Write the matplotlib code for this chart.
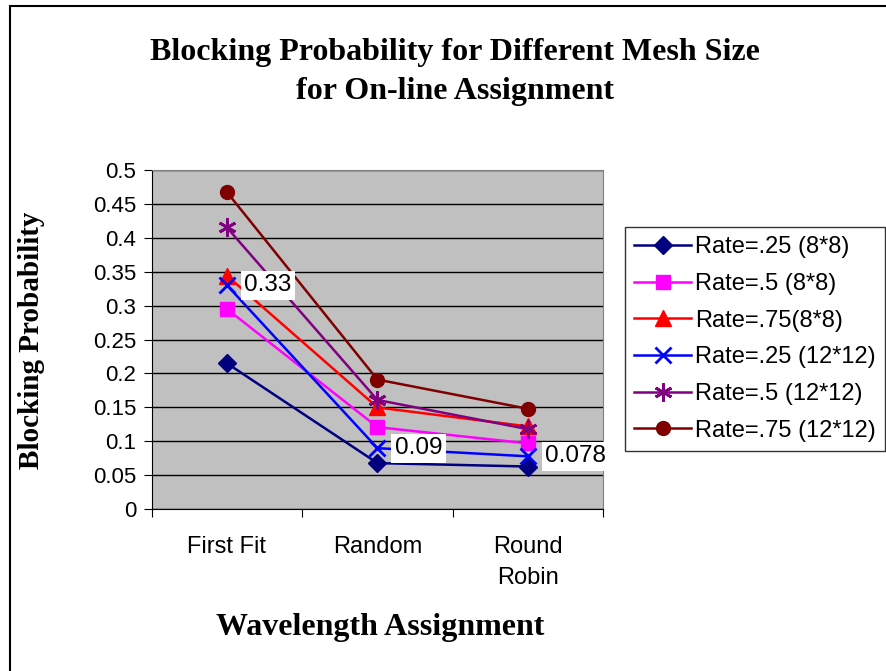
import numpy as np
import matplotlib.pyplot as plt
from matplotlib.patches import Rectangle

categories = ['First Fit', 'Random', 'Round\nRobin']

rate25_8 = [0.215, 0.068, 0.063]
rate5_8 = [0.295, 0.121, 0.097]
rate75_8 = [0.344, 0.150, 0.122]
rate25_12 = [0.33, 0.09, 0.078]
rate5_12 = [0.415, 0.161, 0.118]
rate75_12 = [0.467, 0.191, 0.148]

series = [
    ('Rate=.25 (8*8)', rate25_8, '#000080', 'D', 9),
    ('Rate=.5 (8*8)', rate5_8, '#FF00FF', 's', 10),
    ('Rate=.75(8*8)', rate75_8, '#FF0000', '^', 11),
    ('Rate=.25 (12*12)', rate25_12, '#0000FF', 'x', 11),
    ('Rate=.5 (12*12)', rate5_12, '#800080', (6, 2, 0), 13),
    ('Rate=.75 (12*12)', rate75_12, '#800000', 'o', 10),
]

sans = 'Liberation Sans'
serif = 'Liberation Serif'

fig = plt.figure(figsize=(8.87, 6.71), dpi=100)
ax = fig.add_axes([0.171, 0.241, 0.509, 0.506])
ax.set_facecolor('#C0C0C0')

x = np.arange(len(categories))
for name, vals, col, mk, ms in series:
    ax.plot(x, vals, color=col, marker=mk, markersize=ms, linewidth=1.8,
            markeredgewidth=2 if mk in ('x', (6, 2, 0)) else 1,
            label=name)

# value labels for the 12*12, rate .25 series
for xi, v in zip(x, rate25_12):
    ax.text(xi + 0.115, v, f'{v:g}', fontsize=17.5, family=sans, va='center', ha='left',
            bbox=dict(facecolor='white', edgecolor='none', pad=2.5))

ax.set_xlim(-0.5, 2.5)
ax.set_ylim(0, 0.5)
yt = np.arange(0, 0.51, 0.05).round(2)
ax.set_yticks(yt)
ax.set_yticklabels([f'{t:g}' for t in yt])
ax.set_xticks([-0.5, 0.5, 1.5, 2.5])
ax.set_xticklabels([])
ax.set_xticks(x, minor=True)
ax.set_xticklabels(categories, minor=True, fontsize=17, family=sans, linespacing=1.55)
ax.tick_params(axis='x', which='minor', length=0, pad=19)
ax.tick_params(axis='x', which='major', length=6, direction='out', color='black')
ax.tick_params(axis='y', labelsize=16, length=6, direction='out', pad=5)
for lab in ax.get_yticklabels():
    lab.set_family(sans)

ax.yaxis.grid(True, color='black', linewidth=1)
ax.set_axisbelow(True)
for s in ['top', 'right']:
    ax.spines[s].set_color('#808080')
ax.spines['left'].set_color('black')
ax.spines['bottom'].set_color('black')

# axis titles
fig.text(32 / 887, 1 - 340 / 671, 'Blocking Probability', rotation=90, ha='center', va='center',
         family=serif, fontweight='bold', fontsize=21)
fig.text(380 / 887, 1 - 628 / 671, 'Wavelength Assignment', ha='center', va='center',
         family=serif, fontweight='bold', fontsize=23)

fig.text(455 / 887, 1 - 72 / 671, 'Blocking Probability for Different Mesh Size\nfor On-line Assignment',
         ha='center', va='center', family=serif, fontweight='bold', fontsize=23, linespacing=1.42)

leg = fig.legend(loc='upper left', bbox_to_anchor=(625 / 887, 1 - 227 / 671), prop={'family': sans, 'size': 17},
                 frameon=True, fancybox=False, edgecolor='black', borderpad=0.4,
                 handlelength=2.4, handletextpad=0.15, labelspacing=0.62, borderaxespad=0)
leg.get_frame().set_linewidth(1)

# outer chart border
fig.patches.append(Rectangle((10 / 887, -0.05), 1.1, 1 - 6 / 671 + 0.05, transform=fig.transFigure,
                             fill=False, edgecolor='black', linewidth=1.5))

fig.savefig('out.png', dpi=100)
